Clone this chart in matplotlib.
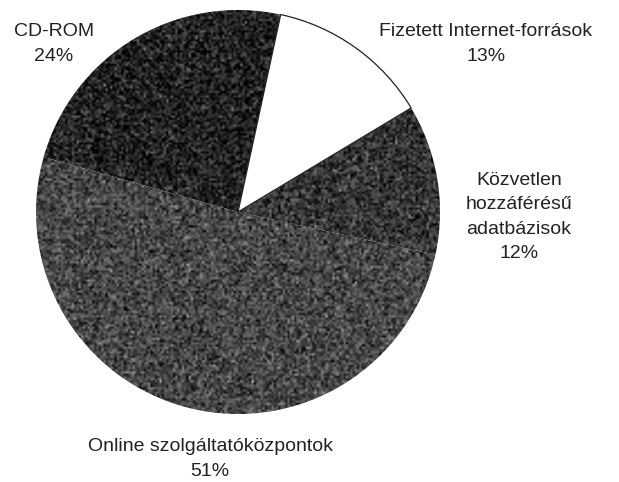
import numpy as np
import matplotlib.pyplot as plt

# adatok a kördiagramhoz
labels = ["Fizetett Internet-források", "CD-ROM", "Online szolgáltatóközpontok",
          "Közvetlen\nhozzáférésű\nadatbázisok"]
shares = [13, 24, 51, 12]
greys = [None, 0.13, 0.28, 0.21]

plt.rcParams['font.family'] = ['Liberation Sans', 'DejaVu Sans']

fig = plt.figure(figsize=(6.19, 4.82), dpi=100)
ax = fig.add_axes([0, 0, 1, 1])

cx, cy, r = 238, 270, 202
wedges, _ = ax.pie(shares, startangle=31, counterclock=True, center=(cx, cy),
                   radius=r, colors=['white'] * 4, frame=True)
ax.set_xlim(0, 619)
ax.set_ylim(0, 482)
ax.axis('off')

# a szkennelt raszter imitálása zajjal
rng = np.random.default_rng(3)
ext = [cx - r, cx + r, cy - r, cy + r]
for w, g in zip(wedges, greys):
    if g is None:
        w.set_edgecolor('#222222')
        w.set_linewidth(0.9)
        w.set_zorder(3)
        continue
    w.set_edgecolor('none')
    tex = np.clip(g + rng.normal(0, 0.12, (180, 180)), 0, 1)
    im = ax.imshow(tex, cmap='gray', vmin=0, vmax=1, extent=ext,
                   interpolation='bilinear', zorder=2)
    im.set_clip_path(w)

tc = '#222222'
fs = 14
ls = 1.55
ax.text(54, 482 - 44, labels[1] + f"\n{shares[1]}%", ha='center', va='center',
        fontsize=fs, color=tc, linespacing=ls)
ax.text(486, 482 - 44, labels[0] + f"\n{shares[0]}%", ha='center', va='center',
        fontsize=fs, color=tc, linespacing=ls)
ax.text(519, 482 - 217, labels[3] + f"\n{shares[3]}%", ha='center', va='center',
        fontsize=fs, color=tc, linespacing=ls)
ax.text(210, 482 - 459, labels[2] + f"\n{shares[2]}%", ha='center', va='center',
        fontsize=fs, color=tc, linespacing=ls)

fig.savefig("out.png", dpi=100)
